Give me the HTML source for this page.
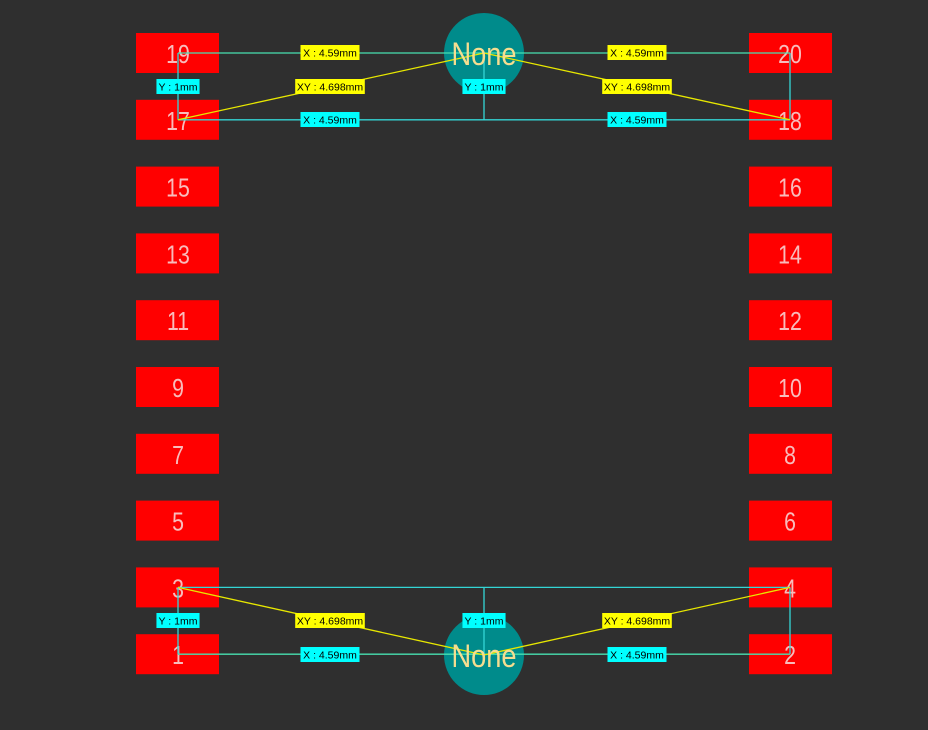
<!DOCTYPE html>
<html><head><meta charset="utf-8"><style>
html,body{margin:0;padding:0;background:#2f2f2f;}
svg{display:block;}
</style></head><body>
<svg id="c" width="928" height="730" xmlns="http://www.w3.org/2000/svg">
<rect width="928" height="730" fill="#2f2f2f"/>
<g id="pads"></g><g id="holes"></g><g id="dims"></g>
</svg>
<script>
const leftPins=[19,17,15,13,11,9,7,5,3,1];
const rightPins=[20,18,16,14,12,10,8,6,4,2];
const holeLabels=["None","None"];
const xLabel="X : 4.59mm", yLabel="Y : 1mm", xyLabel="XY : 4.698mm";
const NS="http://www.w3.org/2000/svg";
function rowY(i){return 53+i*66.8;}
const LX=178, RX=790, HX=484;
function mk(tag,attrs,parent){const e=document.createElementNS(NS,tag);for(const k in attrs)e.setAttribute(k,attrs[k]);parent.appendChild(e);return e;}
const pads=document.getElementById('pads');
function pad(x,y,n,left){
  const r=mk('rect',{x:left?136:749,y:y-20,width:83,height:40,fill:'#ff0000'},pads);
  
  
  const t=mk('text',{x:0,y:0,transform:`translate(${x},${y+10}) scale(0.82,1)`,'text-anchor':'middle','font-family':'Liberation Sans, sans-serif','font-size':'26',fill:'#f8bcbc'},pads);
  t.textContent=n;
  
  
}
leftPins.forEach((n,i)=>pad(LX,rowY(i),n,true));
rightPins.forEach((n,i)=>pad(RX,rowY(i),n,false));
const holes=document.getElementById('holes');
const holeY=[53,655];
holeY.forEach((y,i)=>{
  const c=mk('circle',{cx:HX,cy:y,r:40,fill:'#008b8b'},holes);
  
  
});
const dims=document.getElementById('dims');
function line(x1,y1,x2,y2,col,name){const l=mk('line',{x1,y1,x2,y2,stroke:col,'stroke-width':1.3},dims);
  
  }
function label(cx,cy,txt,bg,name){
  const w=txt.length*5.3+6;
  const g=mk('g',{},dims);
  
  
  mk('rect',{x:cx-w/2,y:cy-7.5,width:w,height:15,fill:bg},g);
  const t=mk('text',{x:cx,y:cy+4,'text-anchor':'middle','font-family':'Liberation Sans, sans-serif','font-size':'10.5',fill:'#000'},g);
  t.textContent=txt;
}
const y19=rowY(0), y17=rowY(1), y3=rowY(8), y1=rowY(9);
const cyan='#33d6d6', green='#48e0b0', yel='#e8e800';
line(LX,y19,RX,y19,green,'dim-line-top-x');
line(LX,y17,RX,y17,cyan,'dim-line-row17-x');
line(LX,y19,LX,y17,cyan,'dim-line-left-y');
line(RX,y19,RX,y17,cyan,'dim-line-right-y');
line(HX,holeY[0],HX,y17,cyan,'dim-line-hole-y');
line(LX,y17,HX,holeY[0],yel,'dim-line-left-xy');
line(RX,y17,HX,holeY[0],yel,'dim-line-right-xy');
line(LX,y1,RX,y1,green,'dim-line-bottom-x');
line(LX,y3,RX,y3,cyan,'dim-line-row3-x');
line(LX,y3,LX,y1,cyan,'dim-line-left-y-bottom');
line(RX,y3,RX,y1,cyan,'dim-line-right-y-bottom');
line(HX,y3,HX,holeY[1],cyan,'dim-line-hole-y-bottom');
line(LX,y3,HX,holeY[1],yel,'dim-line-left-xy-bottom');
line(RX,y3,HX,holeY[1],yel,'dim-line-right-xy-bottom');
holeY.forEach((y,i)=>{
  const t=mk('text',{x:0,y:0,transform:`translate(${HX},${y+12}) scale(0.85,1)`,'text-anchor':'middle','font-family':'Liberation Sans, sans-serif','font-size':'32',fill:'#f5dd90'},dims);
  t.textContent=holeLabels[i];
  
  
});
label(330,52.5,xLabel,'#ffff00','label-x-top-left');
label(637,52.5,xLabel,'#ffff00','label-x-top-right');
label(330,119.5,xLabel,'#00ffff','label-x-row17-left');
label(637,119.5,xLabel,'#00ffff','label-x-row18-right');
label(178,86.5,yLabel,'#00ffff','label-y-top-left');
label(484,86.5,yLabel,'#00ffff','label-y-top-hole');
label(330,86.5,xyLabel,'#ffff00','label-xy-top-left');
label(637,86.5,xyLabel,'#ffff00','label-xy-top-right');
label(330,654.5,xLabel,'#00ffff','label-x-bottom-left');
label(637,654.5,xLabel,'#00ffff','label-x-bottom-right');
label(178,620.5,yLabel,'#00ffff','label-y-bottom-left');
label(484,620.5,yLabel,'#00ffff','label-y-bottom-hole');
label(330,620.5,xyLabel,'#ffff00','label-xy-bottom-left');
label(637,620.5,xyLabel,'#ffff00','label-xy-bottom-right');
</script>
</body></html>
